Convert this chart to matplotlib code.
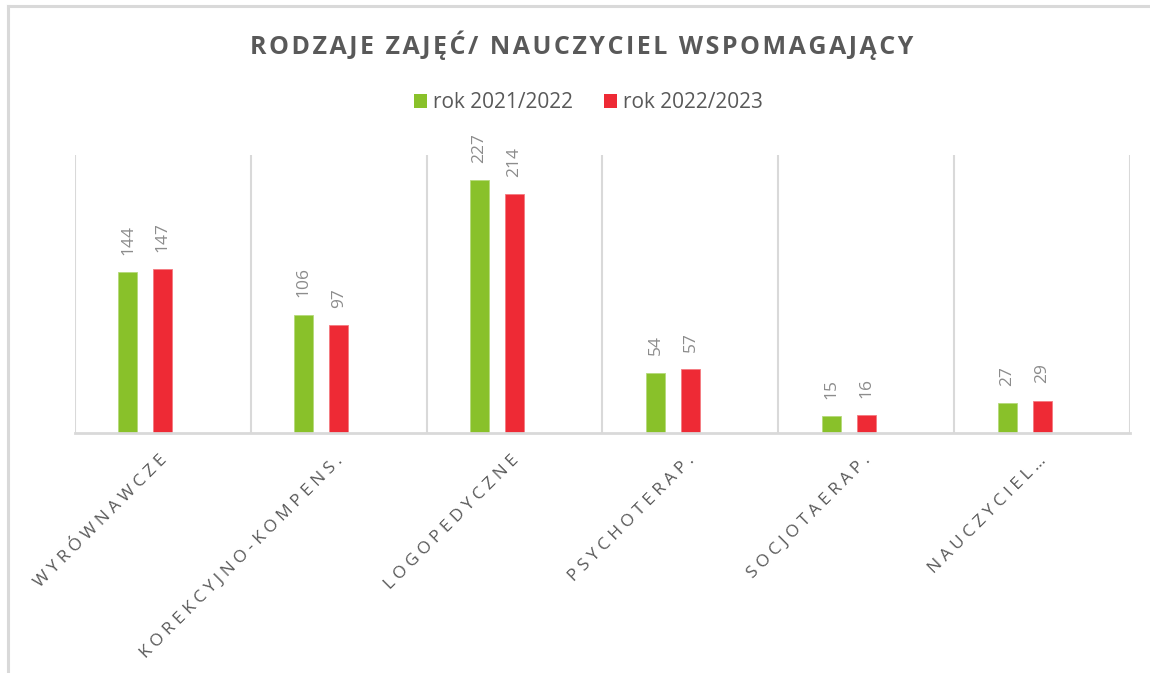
import numpy as np
import matplotlib
matplotlib.use("Agg")
import matplotlib.pyplot as plt
from matplotlib.lines import Line2D
from matplotlib.patches import Patch
from matplotlib.transforms import ScaledTranslation

# ---- data ----
categories = ["WYRÓWNAWCZE", "KOREKCYJNO-KOMPENS.", "LOGOPEDYCZNE",
              "PSYCHOTERAP.", "SOCJOTAERAP.", "NAUCZYCIEL…"]
series_names = ["rok 2021/2022", "rok 2022/2023"]
values_2021 = [144, 106, 227, 54, 15, 27]
values_2022 = [147, 97, 214, 57, 16, 29]
title_text = "RODZAJE ZAJĘĆ/ NAUCZYCIEL WSPOMAGAJĄCY"

# ---- style ----
GREEN = "#89C12A"
RED = "#EE2A35"
GRID = "#D9D9D9"
TXT = "#595959"
LBL = "#8C8C8C"
FONTS = ["Open Sans", "DejaVu Sans"]

def spaced(s, sep):
    return sep.join(list(s))

W, H = 1150, 673
fig = plt.figure(figsize=(W / 100, H / 100), dpi=100)
fig.patch.set_facecolor("white")

# outer frame (top and left visible)
fig.add_artist(Line2D([8 / W, 8 / W], [0, 1 - 6 / H], color=GRID, lw=2.2,
                      transform=fig.transFigure))
fig.add_artist(Line2D([8 / W, 1], [1 - 6 / H, 1 - 6 / H], color=GRID, lw=2.2,
                      transform=fig.transFigure))

ax = fig.add_axes([75 / W, 1 - 433 / H, (1130 - 75) / W, (433 - 155) / H])
x = np.arange(len(categories))
bw = 0.108
step = 0.199
b1 = ax.bar(x - step, values_2021, width=bw, color=GREEN, edgecolor="#B5DA7A",
            linewidth=0.6, label=series_names[0], zorder=3)
b2 = ax.bar(x, values_2022, width=bw, color=RED, edgecolor="#F47A80",
            linewidth=0.6, label=series_names[1], zorder=3)

for bars in (b1, b2):
    for r in bars:
        ax.annotate(f"{int(r.get_height())}",
                    (r.get_x() + r.get_width() / 2, r.get_height()),
                    xytext=(0, 12.5), textcoords="offset points",
                    rotation=90, ha="center", va="bottom",
                    fontsize=12.5, color=LBL, family=FONTS)

ax.set_xlim(-0.5, len(categories) - 0.5)
ax.set_ylim(0, 249.4)
ax.set_yticks([])
for s in ("left", "right", "top"):
    ax.spines[s].set_visible(False)
ax.spines["bottom"].set_color(GRID)
ax.spines["bottom"].set_linewidth(2)
ax.spines["bottom"].set_zorder(4)

ax.set_xticks(np.arange(-0.5, len(categories)), minor=True)
ax.grid(which="minor", axis="x", color=GRID, linewidth=1.5, zorder=0)
ax.tick_params(axis="x", which="both", length=0)
ax.set_xticks(x)
ax.set_xticklabels([spaced(c, "\u2005") for c in categories],
                   rotation=45, ha="right", va="top", rotation_mode="anchor",
                   fontsize=12.5, color=TXT, family=FONTS)
ax.tick_params(axis="x", which="major", pad=14)
shift = ScaledTranslation(-4 / 100, 0, fig.dpi_scale_trans)
for lab in ax.get_xticklabels():
    lab.set_transform(lab.get_transform() + shift)

fig.text(581.5 / W, 1 - 54 / H, spaced(title_text, "\u200a"),
         ha="center", va="baseline", fontsize=18, fontweight="bold",
         color=TXT, family=FONTS)

handles = [Patch(facecolor=GREEN, edgecolor="none"),
           Patch(facecolor=RED, edgecolor="none")]
leg = fig.legend(handles, series_names, loc="center",
                 bbox_to_anchor=(588.5 / W, 1 - 103 / H), ncol=2,
                 frameon=False, handlelength=0.62,
                 handleheight=0.62, handletextpad=0.3, columnspacing=1.5,
                 prop={"family": FONTS, "size": 15})
for t in leg.get_texts():
    t.set_color(TXT)

fig.savefig("out.png", dpi=100, facecolor="white")
